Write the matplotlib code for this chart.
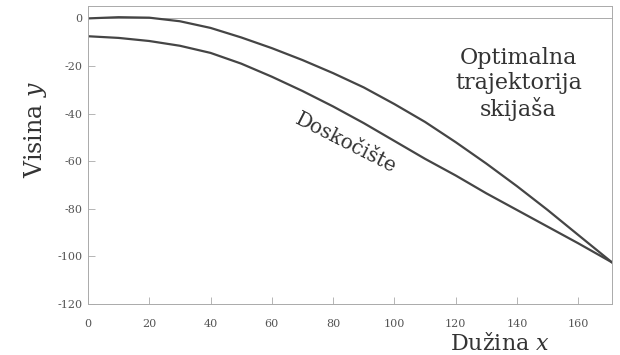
import matplotlib
matplotlib.use("Agg")
import matplotlib.pyplot as plt

plt.rcParams['font.family'] = ['DejaVu Serif']
plt.rcParams['mathtext.fontset'] = 'dejavuserif'

# Optimal ski-jumper trajectory (upper curve)
traj_x = [0, 10, 20, 30, 40, 50, 60, 70, 80, 90, 100, 110, 120, 130, 140, 150, 160, 171]
traj_y = [0, 0.5, 0.3, -1.2, -4, -8, -12.5, -17.5, -23, -29, -36, -43.5, -52, -61, -70.5, -80.5, -91, -102.5]

# Landing slope (lower curve)
hill_x = [0, 10, 20, 30, 40, 50, 60, 70, 80, 90, 100, 110, 120, 130, 140, 150, 160, 171]
hill_y = [-7.5, -8.2, -9.5, -11.5, -14.5, -19, -24.5, -30.5, -37, -44, -51.5, -59, -66, -73.5, -80.5, -87.5, -94.5, -102.5]

xticks = [0, 20, 40, 60, 80, 100, 120, 140, 160]
yticks = [0, -20, -40, -60, -80, -100, -120]

fig = plt.figure(figsize=(6.2, 3.55), dpi=100)
ax = fig.add_axes([0.1419, 0.1437, 0.987 - 0.1419, 0.9817 - 0.1437])

ax.axhline(0, color='#aaaaaa', lw=0.7)
ax.plot(traj_x, traj_y, color='#454545', lw=1.6)
ax.plot(hill_x, hill_y, color='#454545', lw=1.6)

ax.set_xlim(0, 171)
ax.set_ylim(-120, 5)
ax.set_xticks(xticks)
ax.set_xticklabels([str(t) for t in xticks])
ax.set_yticks(yticks)
ax.set_yticklabels([str(t) for t in yticks])
ax.tick_params(direction='in', length=5, width=0.6, colors='#aaaaaa',
               labelcolor='#555555', labelsize=8)
ax.tick_params(axis='x', pad=11)
ax.tick_params(axis='y', pad=4)
for s in ax.spines.values():
    s.set_color('#aaaaaa')
    s.set_linewidth(0.7)

fig.text(0.057, 0.634, 'Visina $y$', rotation=90, ha='center', va='center',
         fontsize=17, color='#333333')
fig.text(0.806, 0.013, 'Dužina $x$', ha='center', va='baseline',
         fontsize=16, color='#333333')
ax.text(140.5, -27.5, 'Optimalna\ntrajektorija\nskijaša', ha='center', va='center',
        fontsize=16, color='#333333', linespacing=1.15)
ax.text(84, -52.5, 'Doskočište', ha='center', va='center', rotation=-27,
        fontsize=14.5, color='#333333')

fig.savefig('out.png', dpi=100)
